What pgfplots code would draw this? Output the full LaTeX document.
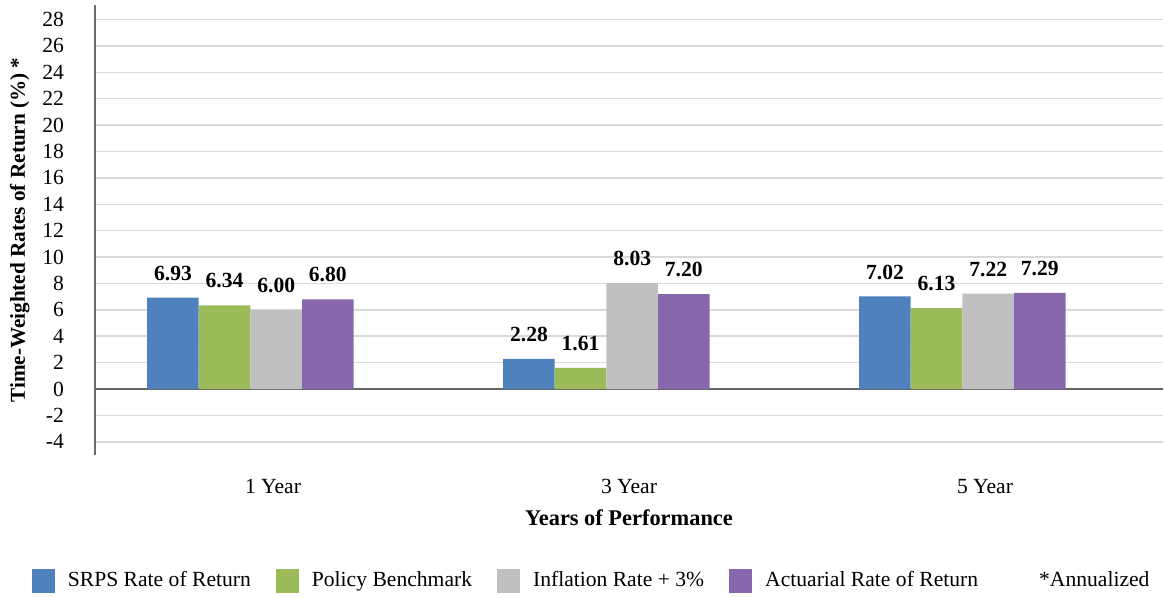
\documentclass[border=0pt]{standalone}
\usepackage{pgfplots}
\pgfplotsset{compat=1.18}
\usepackage{fontspec}
\setmainfont{Liberation Serif}

\definecolor{srps}{HTML}{4F81BD}
\definecolor{policy}{HTML}{9BBB59}
\definecolor{infl}{HTML}{C0C0C0}
\definecolor{actu}{HTML}{8868AC}
\definecolor{gridgray}{HTML}{D9D9D9}

\begin{document}
\begin{tikzpicture}
\begin{axis}[
    name=ax,
    scale only axis,
    width=534pt, height=225pt,
    ybar,
    bar width=0.1447,
    xmin=-0.5, xmax=2.5,
    ymin=-5, ymax=29.1,
    ytick={-4,-2,...,28},
    xtick={0,1,2},
    xticklabels={1 Year, 3 Year, 5 Year},
    axis lines*=left,
    x axis line style={draw=none},
    y axis line style={draw=gray!85!black, line width=0.75pt},
    major tick length=0pt,
    ymajorgrids,
    grid style={gridgray, line width=0.75pt},
    extra y ticks={0},
    extra y tick labels={},
    extra y tick style={grid style={black!60, line width=1pt}},
    font=\fontsize{10.8}{13}\selectfont,
    ticklabel style={font=\fontsize{10.8}{13}\selectfont},
    yticklabel style={/pgf/number format/assume math mode=true, anchor=east, xshift=-12pt},
    xticklabel style={yshift=-8.5pt},
    every axis y label/.style={at={(axis description cs:-0.0705,0.5)}, rotate=90, anchor=center, font=\bfseries\fontsize{10.6}{13}\selectfont},
    every axis x label/.style={at={(axis description cs:0.5,0)}, anchor=center, yshift=-31.5pt, font=\bfseries\fontsize{11.2}{13}\selectfont},
    ylabel={Time-Weighted Rates of Return (\%) *},
    xlabel={Years of Performance},
    nodes near coords,
    nodes near coords style={font=\bfseries\fontsize{10.8}{13}\selectfont, anchor=south, yshift=5pt,
        /pgf/number format/.cd, fixed, precision=2, zerofill, assume math mode=true},
    legend columns=5,
    legend style={at={(axis description cs:0.466,0)}, anchor=north, yshift=-54pt, draw=none,
        font=\fontsize{10.8}{13}\selectfont,
        /tikz/every even column/.append style={column sep=10.5pt},
        /tikz/every odd column/.append style={column sep=4.5pt}},
    legend image code/.code={\fill[#1] (0pt,-6pt) rectangle (11.5pt,6pt);},
    clip=false,
]
\addplot[fill=srps, draw=none, bar shift=-0.281]
    coordinates {(0,6.93) (1,2.28) (2,7.02)};
\addplot[fill=policy, draw=none, bar shift=-0.136]
    coordinates {(0,6.34) (1,1.61) (2,6.13)};
\addplot[fill=infl, draw=none, bar shift=0.009]
    coordinates {(0,6.00) (1,8.03) (2,7.22)};
\addplot[fill=actu, draw=none, bar shift=0.154]
    coordinates {(0,6.80) (1,7.20) (2,7.29)};
\addlegendimage{legend image code/.code={\path[draw=none, fill=none] (0pt,-6pt) rectangle (11.5pt,6pt);}}
\legend{SRPS Rate of Return, Policy Benchmark, Inflation Rate + 3\%, Actuarial Rate of Return, *Annualized}
\end{axis}
\path ([shift={(-47.5pt,2.5pt)}]ax.north west) rectangle ([shift={(1pt,-68.5pt)}]ax.south east);
\end{tikzpicture}
\end{document}
